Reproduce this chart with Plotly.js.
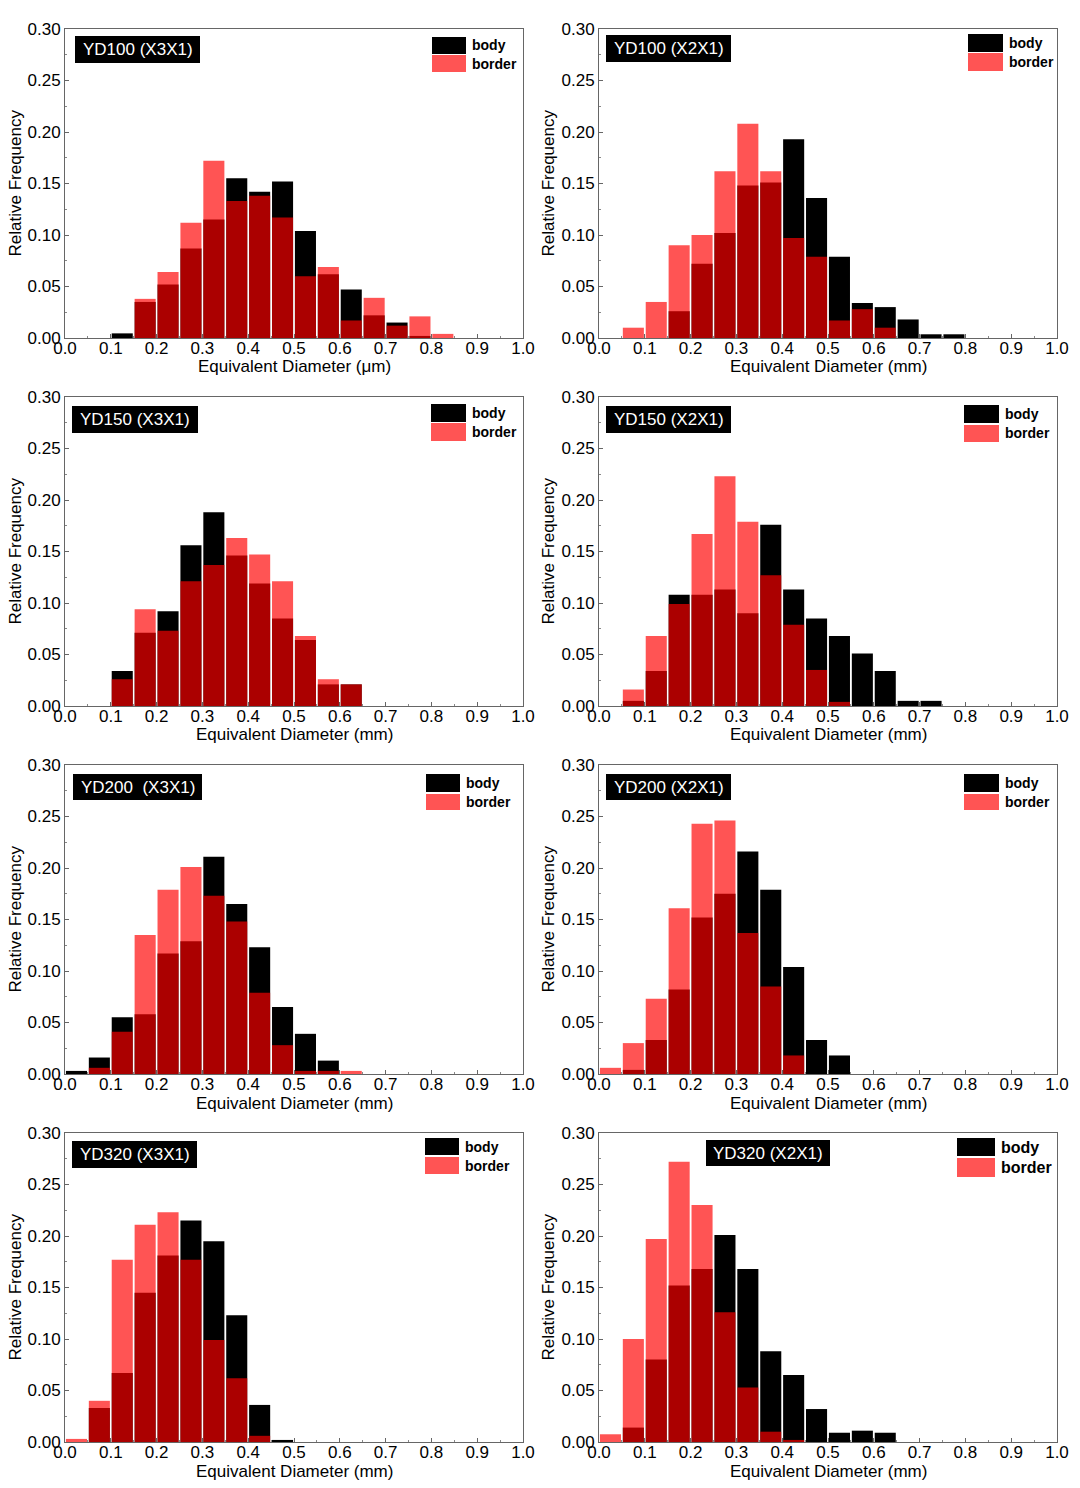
<!DOCTYPE html>
<html>
<head>
<meta charset="utf-8">
<script src="https://cdn.plot.ly/plotly-3.0.1.min.js"></script>
<style>
html,body{margin:0;padding:0;background:#fff;}
#chart{width:1080px;height:1488px;}
</style>
</head>
<body>
<div id="chart"></div>
<script>
// ---------------- DATA ----------------
const bins = [0.025, 0.075, 0.125, 0.175, 0.225, 0.275, 0.325, 0.375, 0.425, 0.475, 0.525, 0.575, 0.625, 0.675, 0.725, 0.775, 0.825];

const bodyP1   = [0, 0, 0.0045, 0.035, 0.052, 0.087, 0.115, 0.155, 0.142, 0.152, 0.104, 0.062, 0.047, 0.022, 0.015, 0.002, 0];
const borderP1 = [0, 0, 0, 0.038, 0.064, 0.112, 0.172, 0.133, 0.138, 0.117, 0.060, 0.069, 0.017, 0.039, 0.012, 0.021, 0.004];

const bodyP2   = [0, 0, 0, 0.026, 0.072, 0.102, 0.148, 0.151, 0.193, 0.136, 0.079, 0.034, 0.030, 0.018, 0.0036, 0.0036, 0];
const borderP2 = [0, 0.010, 0.035, 0.090, 0.100, 0.162, 0.208, 0.162, 0.097, 0.079, 0.017, 0.028, 0.010, 0, 0, 0, 0];

const bodyP3   = [0, 0, 0.034, 0.071, 0.092, 0.156, 0.188, 0.146, 0.119, 0.085, 0.064, 0.021, 0.021, 0, 0, 0, 0];
const borderP3 = [0, 0, 0.026, 0.094, 0.073, 0.121, 0.137, 0.163, 0.147, 0.121, 0.068, 0.026, 0.021, 0, 0, 0, 0];

const bodyP4   = [0, 0.005, 0.034, 0.108, 0.108, 0.113, 0.090, 0.176, 0.113, 0.085, 0.068, 0.051, 0.034, 0.005, 0.005, 0, 0];
const borderP4 = [0, 0.016, 0.068, 0.099, 0.167, 0.223, 0.179, 0.127, 0.079, 0.035, 0.004, 0, 0, 0, 0, 0, 0];

const bodyP5   = [0.003, 0.016, 0.055, 0.058, 0.117, 0.129, 0.211, 0.165, 0.123, 0.065, 0.039, 0.013, 0, 0, 0, 0, 0];
const borderP5 = [0, 0.006, 0.041, 0.135, 0.179, 0.201, 0.173, 0.148, 0.079, 0.028, 0.003, 0.003, 0.003, 0, 0, 0, 0];

const bodyP6   = [0, 0.004, 0.033, 0.082, 0.152, 0.175, 0.216, 0.179, 0.104, 0.033, 0.018, 0, 0, 0, 0, 0, 0];
const borderP6 = [0.006, 0.030, 0.073, 0.161, 0.243, 0.246, 0.137, 0.085, 0.018, 0, 0, 0, 0, 0, 0, 0, 0];

const bodyP7   = [0, 0.033, 0.067, 0.145, 0.181, 0.215, 0.195, 0.123, 0.036, 0.002, 0, 0, 0, 0, 0, 0, 0];
const borderP7 = [0.003, 0.040, 0.177, 0.211, 0.223, 0.177, 0.099, 0.062, 0.006, 0, 0, 0, 0, 0, 0, 0, 0];

const bodyP8   = [0, 0.014, 0.080, 0.152, 0.168, 0.201, 0.168, 0.088, 0.065, 0.032, 0.009, 0.011, 0.009, 0, 0, 0, 0];
const borderP8 = [0.0075, 0.100, 0.197, 0.272, 0.230, 0.126, 0.053, 0.010, 0.002, 0, 0, 0, 0, 0, 0, 0, 0];

const panelLabels = ["YD100 (X3X1)", "YD100 (X2X1)", "YD150 (X3X1)", "YD150 (X2X1)",
                     "YD200\u00a0 (X3X1)", "YD200 (X2X1)", "YD320 (X3X1)", "YD320 (X2X1)"];
const xTitles = ["Equivalent Diameter (\u03bcm)", "Equivalent Diameter (mm)", "Equivalent Diameter (mm)", "Equivalent Diameter (mm)",
                 "Equivalent Diameter (mm)", "Equivalent Diameter (mm)", "Equivalent Diameter (mm)", "Equivalent Diameter (mm)"];
const yTitle = "Relative Frequency";
const seriesNames = ["body", "border"];

const bodySeries = [bodyP1, bodyP2, bodyP3, bodyP4, bodyP5, bodyP6, bodyP7, bodyP8];
const borderSeries = [borderP1, borderP2, borderP3, borderP4, borderP5, borderP6, borderP7, borderP8];

// ---------------- LAYOUT (pixels) ----------------
const W = 1080, H = 1488;
const colX = [[65, 523], [599, 1057]];
const rowTop = [29, 397, 765, 1133];
const plotH = 309;
// label box [left, top, right, bottom]
const labelBoxes = [[75,36,200,63],[606,35,731,62],[72,406,198,433],[606,406,731,433],
                    [73,774,202,800],[606,774,731,800],[72,1141,197,1168],[706,1140,830,1166]];
// legend swatch: [left, right, blackTop, blackBottom, redTop, redBottom, textX, fontSize]
const legendBoxes = [[432,466,37,54,55,72,470,14],[968,1003,34,52,53,71,1007,14],
                     [431,466,404,422,423,441,470,14],[964,999,405,423,425,442,1003,14],
                     [426,460,774,792,794,810,464,14],[964,999,774,792,794,810,1003,14],
                     [425,459,1138,1155,1157,1174,463,14],[957,995,1138,1156,1158,1177,999,16]];

const BLACK = "#000000";
const RED = "rgba(255,0,0,0.67)";
const FONT = "Liberation Sans, Arial, sans-serif";

const px = x => x / W;
const py = y => 1 - y / H;

const traces = [];
const layout = {
  width: W, height: H,
  margin: {l: 0, r: 0, t: 0, b: 0},
  paper_bgcolor: "#fff", plot_bgcolor: "#fff",
  showlegend: false,
  barmode: "overlay",
  font: {family: FONT, color: "#000"},
  shapes: [], annotations: []
};

for (let i = 0; i < 8; i++) {
  const col = i % 2, row = Math.floor(i / 2);
  const n = i + 1;
  const xa = n === 1 ? "x" : "x" + n;
  const ya = n === 1 ? "y" : "y" + n;
  const xKey = n === 1 ? "xaxis" : "xaxis" + n;
  const yKey = n === 1 ? "yaxis" : "yaxis" + n;
  const [xl, xr] = colX[col];
  const yt = rowTop[row], yb = yt + plotH;

  traces.push({type: "bar", name: seriesNames[0], x: bins, y: bodySeries[i], width: 0.046,
               xaxis: xa, yaxis: ya, marker: {color: BLACK, line: {width: 0}}, hoverinfo: "x+y"});
  traces.push({type: "bar", name: seriesNames[1], x: bins, y: borderSeries[i], width: 0.046,
               xaxis: xa, yaxis: ya, marker: {color: RED, line: {width: 0}}, hoverinfo: "x+y"});

  const common = {
    showline: true, mirror: true, linecolor: "#666", linewidth: 1,
    showgrid: false, zeroline: false,
    ticks: "inside", ticklen: 4, tickcolor: "#666", tickwidth: 1,
    tickfont: {family: FONT, size: 17, color: "#000"},
    fixedrange: true
  };
  layout[xKey] = Object.assign({}, common, {
    domain: [px(xl), px(xr)], anchor: ya, range: [0, 1], dtick: 0.1, tick0: 0, tickformat: ".1f",
    ticklabelstandoff: -5,
    minor: {ticks: "inside", ticklen: 2, dtick: 0.05, tickcolor: "#888"}
  });
  layout[yKey] = Object.assign({}, common, {
    domain: [py(yb), py(yt)], anchor: xa, range: [0, 0.30], dtick: 0.05, tick0: 0, tickformat: ".2f",
    minor: {ticks: "inside", ticklen: 2, dtick: 0.025, tickcolor: "#888"}
  });

  // axis titles
  layout.annotations.push({xref: "paper", yref: "paper", x: px((xl + xr) / 2), y: py(yb + 29),
    text: xTitles[i], showarrow: false, xanchor: "center", yanchor: "middle",
    font: {family: FONT, size: 17, color: "#000"}});
  layout.annotations.push({xref: "paper", yref: "paper", x: px(col === 0 ? 15 : 548), y: py((yt + yb) / 2),
    text: yTitle, textangle: -90, showarrow: false, xanchor: "center", yanchor: "middle",
    font: {family: FONT, size: 17, color: "#000"}});

  // label box
  const lb = labelBoxes[i];
  layout.shapes.push({type: "rect", xref: "paper", yref: "paper", x0: px(lb[0]), x1: px(lb[2]),
    y0: py(lb[3]), y1: py(lb[1]), fillcolor: "#000", line: {width: 0}});
  layout.annotations.push({xref: "paper", yref: "paper", x: px((lb[0] + lb[2]) / 2), y: py((lb[1] + lb[3]) / 2),
    text: panelLabels[i], showarrow: false, xanchor: "center", yanchor: "middle",
    font: {family: FONT, size: 17, color: "#fff"}});

  // legend
  const lg = legendBoxes[i];
  layout.shapes.push({type: "rect", xref: "paper", yref: "paper", x0: px(lg[0]), x1: px(lg[1]),
    y0: py(lg[3]), y1: py(lg[2]), fillcolor: BLACK, line: {width: 0}});
  layout.shapes.push({type: "rect", xref: "paper", yref: "paper", x0: px(lg[0]), x1: px(lg[1]),
    y0: py(lg[5]), y1: py(lg[4]), fillcolor: RED, line: {width: 0}});
  layout.annotations.push({xref: "paper", yref: "paper", x: px(lg[6]), y: py((lg[2] + lg[3]) / 2),
    text: "<b>" + seriesNames[0] + "</b>", showarrow: false, xanchor: "left", yanchor: "middle",
    font: {family: FONT, size: lg[7], color: "#000"}});
  layout.annotations.push({xref: "paper", yref: "paper", x: px(lg[6]), y: py((lg[4] + lg[5]) / 2),
    text: "<b>" + seriesNames[1] + "</b>", showarrow: false, xanchor: "left", yanchor: "middle",
    font: {family: FONT, size: lg[7], color: "#000"}});
}

Plotly.newPlot("chart", traces, layout, {staticPlot: true, displayModeBar: false});
</script>
</body>
</html>
